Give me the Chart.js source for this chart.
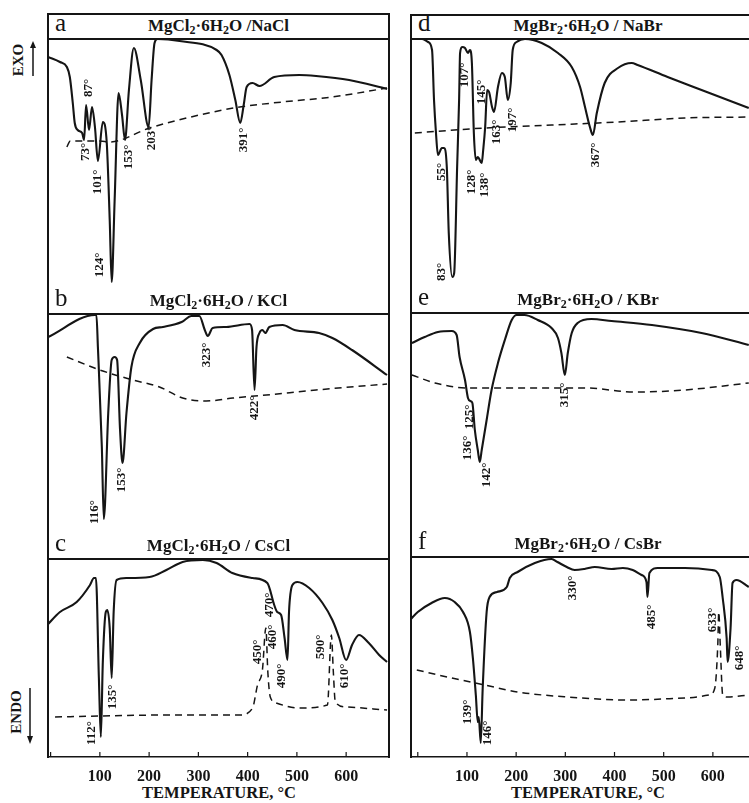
<!DOCTYPE html>
<html>
<head>
<meta charset="utf-8">
<script src="https://cdn.jsdelivr.net/npm/chart.js@4.4.1/dist/chart.umd.min.js"></script>
<style>
body { margin:0; width:749px; height:803px; overflow:hidden; background:#fff; position:relative;
       font-family:"Liberation Serif","Times New Roman",serif; color:#151515; }
canvas, .ln, .head, .txt { position:absolute; }
.ln { background:#151515; z-index:3; }
.head { z-index:2; font-weight:bold; font-size:17px; line-height:26px; text-align:center; white-space:nowrap; }
.head .let { position:absolute; left:7px; top:-3px; font-weight:normal; font-size:25px; }
.head sub { font-size:12px; vertical-align:-3px; line-height:0; }
.txt { font-weight:bold; white-space:nowrap; }
</style>
</head>
<body>
<svg width="60" height="803" style="position:absolute;left:0;top:0">
  <line x1="33" y1="76" x2="33" y2="47" stroke="#151515" stroke-width="1.5"/>
  <polygon points="30,48 33,41 36,48" fill="#151515"/>
  <line x1="30" y1="688" x2="30" y2="738" stroke="#151515" stroke-width="1.5"/>
  <polygon points="27,736 30,744 33,736" fill="#151515"/>
</svg>
<div class="txt" style="left:18px;top:60px;font-size:15px;transform:translate(-50%,-50%) rotate(-90deg)">EXO</div>
<div class="txt" style="left:16px;top:712px;font-size:15px;transform:translate(-50%,-50%) rotate(-90deg)">ENDO</div>
<div class="txt" style="left:219px;top:793px;font-size:16.5px;transform:translate(-50%,-50%)">TEMPERATURE, °C</div>
<div class="txt" style="left:588px;top:793px;font-size:16.5px;transform:translate(-50%,-50%)">TEMPERATURE, °C</div>

<script>
// ---- data (temperature in °C, DTA signal in arbitrary units) ----
var xTicks = [100, 200, 300, 400, 500, 600];

// a  MgCl2.6H2O / NaCl
var tA = [-5, 19, 33, 39, 45, 49, 55, 64, 68, 72, 78, 84, 90, 96, 106, 114, 120, 124, 130, 138, 145, 151, 159, 169, 183, 199, 205, 211, 217, 262, 337, 347, 363, 375, 385, 392, 398, 410, 424, 454, 505, 539, 606, 683];
var yA = [226, 221, 216, 206, 180, 160, 153, 150, 143, 178, 153, 176, 156, 122, 161, 140, 63, 1, 83, 190, 168, 143, 193, 235, 203, 156, 203, 240, 244, 242, 233, 228, 208, 183, 160, 178, 196, 200, 197, 206, 208, 207, 203, 194];
var tAbase = [33, 40, 100, 120, 201, 302, 384, 470, 572, 683];
var yAbase = [136, 142, 142, 141, 155, 168, 176, 181, 186, 195];
var peaksA = [['73°', 72, 131], ['87°', 78, 195], ['101°', 96, 101], ['124°', 100, 18], ['153°', 159, 126], ['203°', 205, 145], ['391°', 392, 143]];

// b  MgCl2.6H2O / KCl
var tB = [-5, 90, 93, 96, 104, 108, 117, 124, 130, 135, 141, 146, 154, 164, 181, 208, 228, 266, 286, 302, 313, 319, 329, 357, 404, 409, 414, 418, 424, 430, 436, 444, 471, 495, 545, 572, 612, 683];
var yB = [203, 225, 225, 193, 93, 21, 127, 180, 183, 180, 110, 77, 127, 173, 197, 211, 213, 218, 224, 224, 210, 204, 212, 213, 216, 210, 150, 193, 207, 210, 207, 213, 215, 210, 207, 202, 190, 165];
var tBbase = [33, 100, 167, 221, 268, 316, 370, 438, 539, 683];
var yBbase = [183, 170, 160, 153, 142, 139, 142, 145, 150, 156];
var peaksB = [['116°', 90, 28], ['153°', 145, 60], ['323°', 317, 185], ['422°', 414, 132]];

// c  MgCl2.6H2O / CsCl
var tC = [-7, 19, 53, 80, 88, 92, 98, 102, 106, 112, 115, 120, 124, 128, 134, 154, 201, 235, 268, 309, 337, 369, 410, 440, 454, 460, 468, 475, 481, 484, 491, 501, 525, 552, 572, 586, 600, 612, 626, 646, 667, 683];
var yC = [132, 145, 155, 172, 179, 179, 79, 20, 95, 145, 147, 129, 79, 145, 177, 179, 180, 187, 195, 197, 194, 184, 179, 174, 152, 145, 142, 119, 97, 145, 172, 175, 169, 154, 137, 119, 97, 112, 122, 114, 102, 95];
var tCbase = [9, 100, 236, 383, 410, 420, 430, 437, 441, 446, 458, 505, 562, 570, 574, 578, 600, 683];
var yCbase = [40, 41, 42, 42, 49, 72, 87, 129, 85, 60, 54, 49, 52, 122, 85, 55, 50, 47];
var peaksC = [['112°', 84, 24], ['135°', 126, 60], ['450°', 420, 105], ['460°', 450, 120], ['470°', 444, 152], ['490°', 470, 81], ['590°', 549, 110], ['610°', 596, 81]];

// d  MgBr2.6H2O / NaBr
var tD = [-6, 9, 21, 29, 33, 37, 41, 49, 53, 59, 63, 70, 74, 80, 84, 86, 90, 96, 102, 106, 110, 114, 118, 122, 130, 133, 137, 141, 145, 151, 155, 163, 171, 177, 183, 189, 193, 201, 218, 252, 285, 313, 330, 340, 350, 356, 364, 380, 407, 435, 447, 508, 577, 673];
var yD = [244, 244, 241, 233, 183, 150, 128, 135, 135, 116, 50, 6, 10, 116, 183, 230, 236, 235, 230, 233, 220, 150, 123, 126, 120, 133, 156, 193, 191, 176, 171, 196, 210, 206, 183, 200, 233, 241, 244, 240, 230, 216, 196, 176, 156, 148, 170, 200, 215, 220, 218, 206, 193, 175];
var tDbase = [-6, 136, 272, 407, 543, 673];
var yDbase = [150, 155, 158, 161, 165, 166];
var peaksD = [['55°', 49, 111], ['83°', 49, 11], ['107°', 96, 208], ['145°', 130, 191], ['128°', 110, 101], ['138°', 135, 98], ['163°', 161, 151], ['197°', 192, 163], ['367°', 362, 128]];

// e  MgBr2.6H2O / KBr
var tE = [-12, 14, 41, 69, 79, 85, 96, 102, 107, 111, 116, 122, 126, 130, 140, 150, 163, 177, 191, 201, 217, 244, 272, 285, 292, 299, 305, 313, 325, 353, 394, 476, 577, 673];
var yE = [188, 194, 199, 200, 196, 174, 151, 133, 130, 128, 101, 81, 69, 81, 111, 141, 168, 191, 211, 216, 216, 211, 203, 193, 178, 156, 178, 198, 208, 212, 210, 206, 198, 186];
var tEbase = [-12, 35, 102, 203, 340, 441, 543, 673];
var yEbase = [156, 148, 143, 143, 143, 139, 141, 148];
var peaksE = [['125°', 106, 114], ['136°', 102, 83], ['142°', 141, 56], ['315°', 299, 136]];

// f  MgBr2.6H2O / CsBr
var tF = [-16, 0, 28, 55, 75, 92, 106, 112, 118, 122, 124, 128, 132, 140, 146, 161, 181, 187, 203, 238, 272, 284, 303, 319, 339, 360, 394, 417, 437, 455, 465, 467, 471, 488, 543, 598, 614, 620, 628, 630, 636, 640, 648, 673];
var yF = [137, 145, 154, 159, 155, 145, 125, 99, 62, 35, 40, 14, 69, 145, 160, 165, 170, 179, 185, 194, 198, 195, 190, 187, 188, 190, 188, 189, 187, 182, 175, 160, 184, 189, 189, 187, 180, 159, 119, 95, 129, 174, 177, 170];
var tFbase = [-2, 69, 136, 203, 305, 427, 543, 593, 604, 610, 612, 615, 620, 630, 673];
var yFbase = [87, 79, 72, 65, 60, 57, 59, 62, 69, 112, 145, 112, 62, 60, 62];
var peaksF = [['139°', 102, 45], ['146°', 142, 24], ['330°', 314, 169], ['485°', 476, 140], ['633°', 600, 137], ['648°', 655, 99]];

// ---- layout ----
var INK = '#151515';
var FONT = '"Liberation Serif", "Times New Roman", serif';
var colL = { x: 48, w: 341, tmin: -5.3, tmax: 687 };
var colR = { x: 411, w: 354, tmin: -13.8, tmax: 706 };

function pts(t, v) {
	return t.map(function (x, i) { return { x: x, y: v[i] }; });
}

function addDiv(cls, css, html) {
	var d = document.createElement('div');
	d.className = cls;
	d.style.cssText = css;
	if (html) d.innerHTML = html;
	document.body.appendChild(d);
	return d;
}

var peakLabels = {
	id: 'peakLabels',
	afterDatasetsDraw: function (chart, args, opts) {
		var ctx = chart.ctx, xs = chart.scales.x, ys = chart.scales.y;
		ctx.save();
		ctx.fillStyle = INK;
		ctx.font = 'bold 13px ' + FONT;
		ctx.textAlign = 'center';
		ctx.textBaseline = 'middle';
		(opts.items || []).forEach(function (l) {
			ctx.save();
			ctx.translate(xs.getPixelForValue(l[1]), ys.getPixelForValue(l[2]));
			ctx.rotate(-Math.PI / 2);
			ctx.fillText(l[0], 0, 0);
			ctx.restore();
		});
		if (opts.axis) {
			// small inward ticks on the temperature axis
			ctx.strokeStyle = INK;
			ctx.lineWidth = 1.2;
			[0].concat(xTicks).forEach(function (v) {
				var x = xs.getPixelForValue(v);
				ctx.beginPath();
				ctx.moveTo(x, chart.chartArea.bottom);
				ctx.lineTo(x, chart.chartArea.bottom - 5);
				ctx.stroke();
			});
		}
		ctx.restore();
	}
};

function definePanel(col, letter, title, line, bottom, yTop, yBot, t, y, tb, yb, peaks, axis) {
	// header box
	addDiv('head', 'left:' + col.x + 'px;top:' + (line - 26) + 'px;width:' + col.w + 'px;height:26px;',
		'<span class="let">' + letter + '</span>' + title);
	addDiv('ln', 'left:' + col.x + 'px;top:' + (line - 1) + 'px;width:' + col.w + 'px;height:1.5px;');

	var h = bottom - line;
	var cv = document.createElement('canvas');
	cv.width = col.w;
	cv.height = h + (axis ? 34 : 0);
	cv.style.left = col.x + 'px';
	cv.style.top = line + 'px';
	document.body.appendChild(cv);

	var xScale = {
		type: 'linear',
		min: col.tmin,
		max: col.tmax,
		display: axis,
		grid: { display: false },
		border: { display: true, color: INK, width: 1.5 },
		ticks: { color: INK, font: { family: FONT, size: 16, weight: 'bold' }, padding: 2, maxRotation: 0, autoSkip: false }
	};
	if (axis) {
		xScale.afterBuildTicks = function (s) { s.ticks = xTicks.map(function (v) { return { value: v }; }); };
		xScale.afterFit = function (s) { s.height = 34; };
	}

	new Chart(cv, {
		type: 'line',
		data: {
			datasets: [{
				data: pts(t, y),
				borderColor: INK,
				borderWidth: 2.1,
				pointRadius: 0,
				cubicInterpolationMode: 'monotone'
			}, {
				data: pts(tb, yb),
				borderColor: INK,
				borderWidth: 1.5,
				borderDash: [7, 5],
				pointRadius: 0,
				cubicInterpolationMode: 'monotone'
			}]
		},
		options: {
			responsive: false,
			animation: false,
			events: [],
			layout: { padding: 0 },
			plugins: {
				legend: { display: false },
				tooltip: { enabled: false },
				peakLabels: { items: peaks, axis: axis }
			},
			scales: {
				x: xScale,
				y: { min: yBot, max: yTop, display: false }
			}
		},
		plugins: [peakLabels]
	});
}

var mg = 'MgCl<sub>2</sub>·6H<sub>2</sub>O';
var mb = 'MgBr<sub>2</sub>·6H<sub>2</sub>O';
definePanel(colL, 'a', mg + ' /NaCl', 39, 288, 244, -5, tA, yA, tAbase, yAbase, peaksA, false);
definePanel(colL, 'b', mg + ' / KCl', 314, 533, 226, 7, tB, yB, tBbase, yBbase, peaksB, false);
definePanel(colL, 'c', mg + ' / CsCl', 559, 757, 198, 0, tC, yC, tCbase, yCbase, peaksC, true);
definePanel(colR, 'd', mb + ' / NaBr', 39, 287, 244, -4, tD, yD, tDbase, yDbase, peaksD, false);
definePanel(colR, 'e', mb + ' / KBr', 313, 531, 218, 0, tE, yE, tEbase, yEbase, peaksE, false);
definePanel(colR, 'f', mb + ' / CsBr', 557, 757, 200, 0, tF, yF, tFbase, yFbase, peaksF, true);

// frame lines
addDiv('ln', 'left:' + colL.x + 'px;top:13px;width:' + colL.w + 'px;height:1.5px;');
addDiv('ln', 'left:' + colR.x + 'px;top:14px;width:' + colR.w + 'px;height:1.5px;');
addDiv('ln', 'left:47px;top:13px;width:1.5px;height:745px;');
addDiv('ln', 'left:388px;top:13px;width:1.5px;height:745px;');
addDiv('ln', 'left:410px;top:14px;width:1.5px;height:744px;');
</script>
</body>
</html>
